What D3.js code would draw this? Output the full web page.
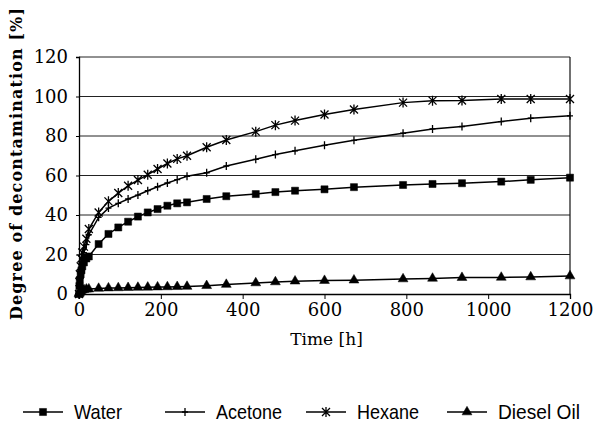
<!DOCTYPE html>
<html>
<head>
<meta charset="utf-8">
<script src="https://cdn.jsdelivr.net/npm/d3@7"></script>
<style>
  body { margin: 0; background: #fff; }
  svg { display: block; }
</style>
</head>
<body>
<svg id="chart" width="596" height="425"></svg>
<script>
// time points in hours
var hours = [0, 1, 2, 4, 6, 8, 12, 18, 24, 48, 72, 96, 120, 144, 168, 192, 216, 240, 264,
             312, 360, 432, 480, 528, 600, 672, 792, 864, 936, 1032, 1104, 1200];

var water   = [0, 4, 7, 10, 12, 14, 16, 18, 19, 25.3, 30.4, 33.7, 36.6, 39.2, 41.3, 43, 44.7, 45.9, 46.4,
               48.1, 49.5, 50.6, 51.6, 52.3, 53, 54.1, 55.2, 55.7, 56.1, 56.9, 57.8, 58.9];
var acetone = [0, 5, 8, 12, 15, 18, 21, 25, 30, 38.8, 43.5, 45.9, 48.1, 50.1, 52.3, 54.3, 56.2, 57.9, 59.6,
               61.4, 64.8, 68.2, 70.6, 72.5, 75.3, 77.8, 81.4, 83.6, 84.8, 87.3, 89, 90.2];
var hexane  = [0, 6, 10, 14, 18, 21, 24, 28, 32.9, 41.3, 46.9, 51.1, 54.8, 57.7, 60.4, 63.3, 66.1, 68.4, 70,
               74.3, 78, 82.2, 85.5, 87.8, 90.9, 93.4, 96.9, 97.9, 98, 98.7, 98.7, 98.7];
var diesel  = [0, 0.5, 1, 1.5, 2, 2, 2.2, 2.4, 2.5, 2.8, 3, 3.1, 3.2, 3.3, 3.4, 3.5, 3.6, 3.7, 3.8,
               4.2, 4.8, 5.6, 6.1, 6.5, 6.8, 7, 7.6, 7.9, 8.3, 8.4, 8.6, 9.1];

var seriesNames = ["Water", "Acetone", "Hexane", "Diesel Oil"];
var seriesValues = [water, acetone, hexane, diesel];
var markerTypes = ["square", "plus", "star", "triangle"];

var xTicks = [0, 200, 400, 600, 800, 1000, 1200];
var yTicks = [0, 20, 40, 60, 80, 100, 120];

var svg = d3.select("#chart");
var margin = {top: 57, right: 26, bottom: 131, left: 79},
    width = +svg.attr("width") - margin.left - margin.right,
    height = +svg.attr("height") - margin.top - margin.bottom;
var g = svg.append("g").attr("transform", "translate(" + margin.left + "," + margin.top + ")");

var x = d3.scaleLinear().domain([0, 1200]).range([0, width]);
var y = d3.scaleLinear().domain([0, 120]).range([height, 0]);

// gridlines
g.append("g")
  .selectAll("line")
  .data(yTicks.filter(function(d) { return d > 0; }))
  .enter().append("line")
    .attr("x1", 0).attr("x2", width)
    .attr("y1", function(d) { return y(d); })
    .attr("y2", function(d) { return y(d); })
    .attr("stroke", "#222").attr("stroke-width", 1);

// right border
g.append("line")
  .attr("x1", width).attr("x2", width)
  .attr("y1", 0).attr("y2", height)
  .attr("stroke", "#111").attr("stroke-width", 1.2);

var yAxis = g.append("g")
  .call(d3.axisLeft(y).tickValues(yTicks).tickSize(3).tickPadding(8).tickFormat(d3.format("d")));
var xAxis = g.append("g")
  .attr("transform", "translate(0," + height + ")")
  .call(d3.axisBottom(x).tickValues(xTicks).tickSize(5).tickPadding(4).tickFormat(d3.format("d")));
[yAxis, xAxis].forEach(function(a) {
  a.attr("font-family", "DejaVu Serif").attr("font-size", 18);
  a.select(".domain").attr("stroke", "#000").attr("stroke-width", 1.3);
  a.selectAll(".tick line").attr("stroke", "#000");
  a.selectAll(".tick text").attr("fill", "#000");
});

// marker paths
function markerPath(type) {
  if (type === "square") return d3.symbol(d3.symbolSquare, 50)();
  if (type === "triangle") return d3.symbol(d3.symbolTriangle, 42)();
  if (type === "plus") return "M0,-4V4M-3,0H3";
  return "M-4,-4L4,4M-4,4L4,-4M0,-5V5";
}

var line = d3.line()
  .x(function(d) { return x(d[0]); })
  .y(function(d) { return y(d[1]); });

seriesValues.forEach(function(vals, i) {
  var pts = hours.map(function(h, j) { return [h, vals[j]]; });
  var sg = g.append("g");
  sg.append("path")
    .datum(pts)
    .attr("d", line)
    .attr("fill", "none")
    .attr("stroke", "#000")
    .attr("stroke-width", 1.5);
  sg.selectAll("path.m")
    .data(pts)
    .enter().append("path")
      .attr("class", "m")
      .attr("transform", function(d) { return "translate(" + x(d[0]) + "," + y(d[1]) + ")"; })
      .attr("d", markerPath(markerTypes[i]))
      .attr("fill", "#000")
      .attr("stroke", "#000")
      .attr("stroke-width", markerTypes[i] === "square" || markerTypes[i] === "triangle" ? 0.5 : 1.3);
});

// axis titles
svg.append("text")
  .attr("transform", "translate(22,164) rotate(-90)")
  .attr("text-anchor", "middle")
  .attr("font-family", "DejaVu Serif")
  .attr("font-weight", "bold")
  .attr("font-size", 16)
  .attr("textLength", 312)
  .attr("lengthAdjust", "spacing")
  .text("Degree of decontamination [%]");

svg.append("text")
  .attr("x", margin.left + x(600) + 2)
  .attr("y", 345)
  .attr("text-anchor", "middle")
  .attr("font-family", "DejaVu Serif")
  .attr("font-size", 17)
  .text("Time [h]");

// legend
var legendX = [23, 165, 306, 447];
var legendW = [48, 66, 62, 82];
var legend = svg.append("g");
seriesNames.forEach(function(name, i) {
  var lg = legend.append("g").attr("transform", "translate(" + legendX[i] + ",412)");
  lg.append("line").attr("x1", 0).attr("x2", 40).attr("stroke", "#000").attr("stroke-width", 1.5);
  lg.append("path")
    .attr("transform", "translate(20,0)")
    .attr("d", markerPath(markerTypes[i]))
    .attr("fill", "#000").attr("stroke", "#000")
    .attr("stroke-width", markerTypes[i] === "square" || markerTypes[i] === "triangle" ? 0.5 : 1.3);
  lg.append("text")
    .attr("x", 51)
    .attr("y", 7)
    .attr("font-family", "Liberation Sans")
    .attr("font-size", 21)
    .attr("textLength", legendW[i])
    .attr("lengthAdjust", "spacingAndGlyphs")
    .text(name);
});
</script>
</body>
</html>
